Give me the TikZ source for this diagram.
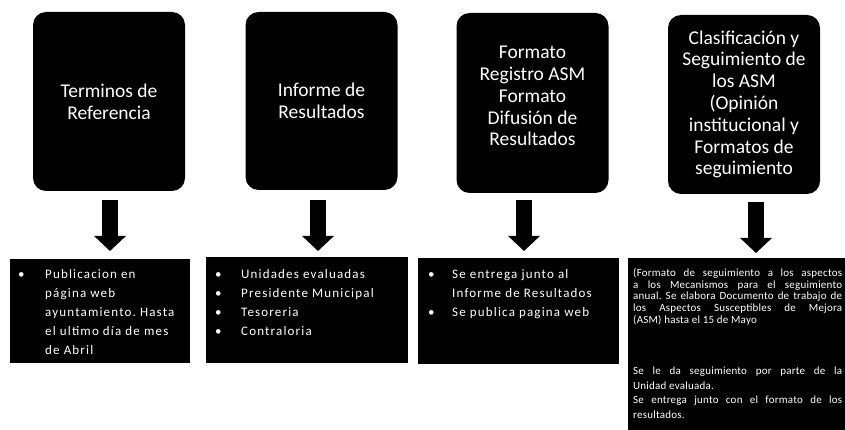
\documentclass[tikz,border=0pt]{standalone}
\usepackage{fontspec}
\setmainfont{Carlito}
\newfontfamily\spacedfont[LetterSpace=9]{Carlito}
\newfontfamily\smallspaced[LetterSpace=2]{Carlito}
\usetikzlibrary{arrows.meta}
\frenchspacing
\begin{document}
\begin{tikzpicture}[x=1pt,y=-1pt,
 topbox/.style={fill=black, rounded corners=13pt, text=white, align=center,
   minimum width=152pt, inner sep=0pt, font=\fontsize{19.5}{21.8}\selectfont},
 botbox/.style={fill=black, anchor=north west, inner sep=0pt},
 bigarrow/.style={line width=16pt, -{Triangle[width=31pt,length=15pt]}},
 listtext/.style={text=white, anchor=north west, inner sep=0pt, align=left,
   font=\spacedfont\fontsize{13}{19}\selectfont},
 smalltext/.style={text=white, anchor=north west, inner sep=0pt,
   font=\smallspaced\fontsize{11}{11.8}\selectfont}
]
\useasboundingbox (0,0) rectangle (845,430);
\fill[white] (0,0) rectangle (845,430);

% top boxes
\node[topbox, minimum height=179pt] (t1) at (109,101.5) {Terminos de\\Referencia};
\node[topbox, minimum height=178pt] (t2) at (321.5,101) {Informe de\\Resultados};
\node[topbox, minimum height=180pt] (t3) at (532.5,103) {Formato\\Registro ASM\\Formato\\Difusión de\\Resultados\\[-8pt]};
\node[topbox, minimum height=179pt] (t4) at (744,104.5) {Clasificación y\\Seguimiento de\\los ASM\\(Opinión\\institucional y\\Formatos de\\seguimiento};

% bottom boxes
\node[botbox, minimum width=180pt, minimum height=104pt] (b1) at (10,259) {};
\node[botbox, minimum width=202pt, minimum height=106pt] (b2) at (206,257) {};
\node[botbox, minimum width=201pt, minimum height=106pt] (b3) at (418,258) {};
\node[botbox, minimum width=217pt, minimum height=172pt] (b4) at (628,258) {};

% arrows
\coordinate (a1s) at (110,200); \coordinate (a1e) at (110,251);
\coordinate (a2s) at (318,200); \coordinate (a2e) at (318,251);
\coordinate (a3s) at (524,200); \coordinate (a3e) at (524,251);
\coordinate (a4s) at (756,202); \coordinate (a4e) at (756,253);
\draw[bigarrow] (a1s) -- (a1e);
\draw[bigarrow] (a2s) -- (a2e);
\draw[bigarrow] (a3s) -- (a3e);
\draw[bigarrow] (a4s) -- (a4e);

% texts
\node[listtext] (x1) at (18,265) {\begin{tabular}{@{}p{27pt}@{}l@{}}
\textbullet & Publicacion en\\
 & página web\\
 & ayuntamiento. Hasta\\
 & el ultimo día de mes\\
 & de Abril
\end{tabular}};
\node[listtext] (x2) at (215,265) {\begin{tabular}{@{}p{26pt}@{}l@{}}
\textbullet & Unidades evaluadas\\
\textbullet & Presidente Municipal\\
\textbullet & Tesoreria\\
\textbullet & Contraloria
\end{tabular}};
\node[listtext] (x3) at (428,265) {\begin{tabular}{@{}p{24pt}@{}l@{}}
\textbullet & Se entrega junto al\\
 & Informe de Resultados\\
\textbullet & Se publica pagina web
\end{tabular}};
\node[smalltext] (x4) at (633,268) {\parbox[t]{209pt}{\smallspaced\fontsize{11}{11.8}\selectfont\frenchspacing
(Formato de seguimiento a los aspectos\linebreak
a los Mecanismos para el seguimiento\linebreak
anual. Se elabora Documento de trabajo de\linebreak
los Aspectos Susceptibles de Mejora\linebreak
(ASM) hasta el 15 de Mayo\par
\vspace{37pt}
{\fontsize{11}{14.5}\selectfont
Se le da seguimiento por parte de la\linebreak
Unidad evaluada.\par
Se entrega junto con el formato de los\linebreak
resultados.\par}}};
\end{tikzpicture}
\end{document}
